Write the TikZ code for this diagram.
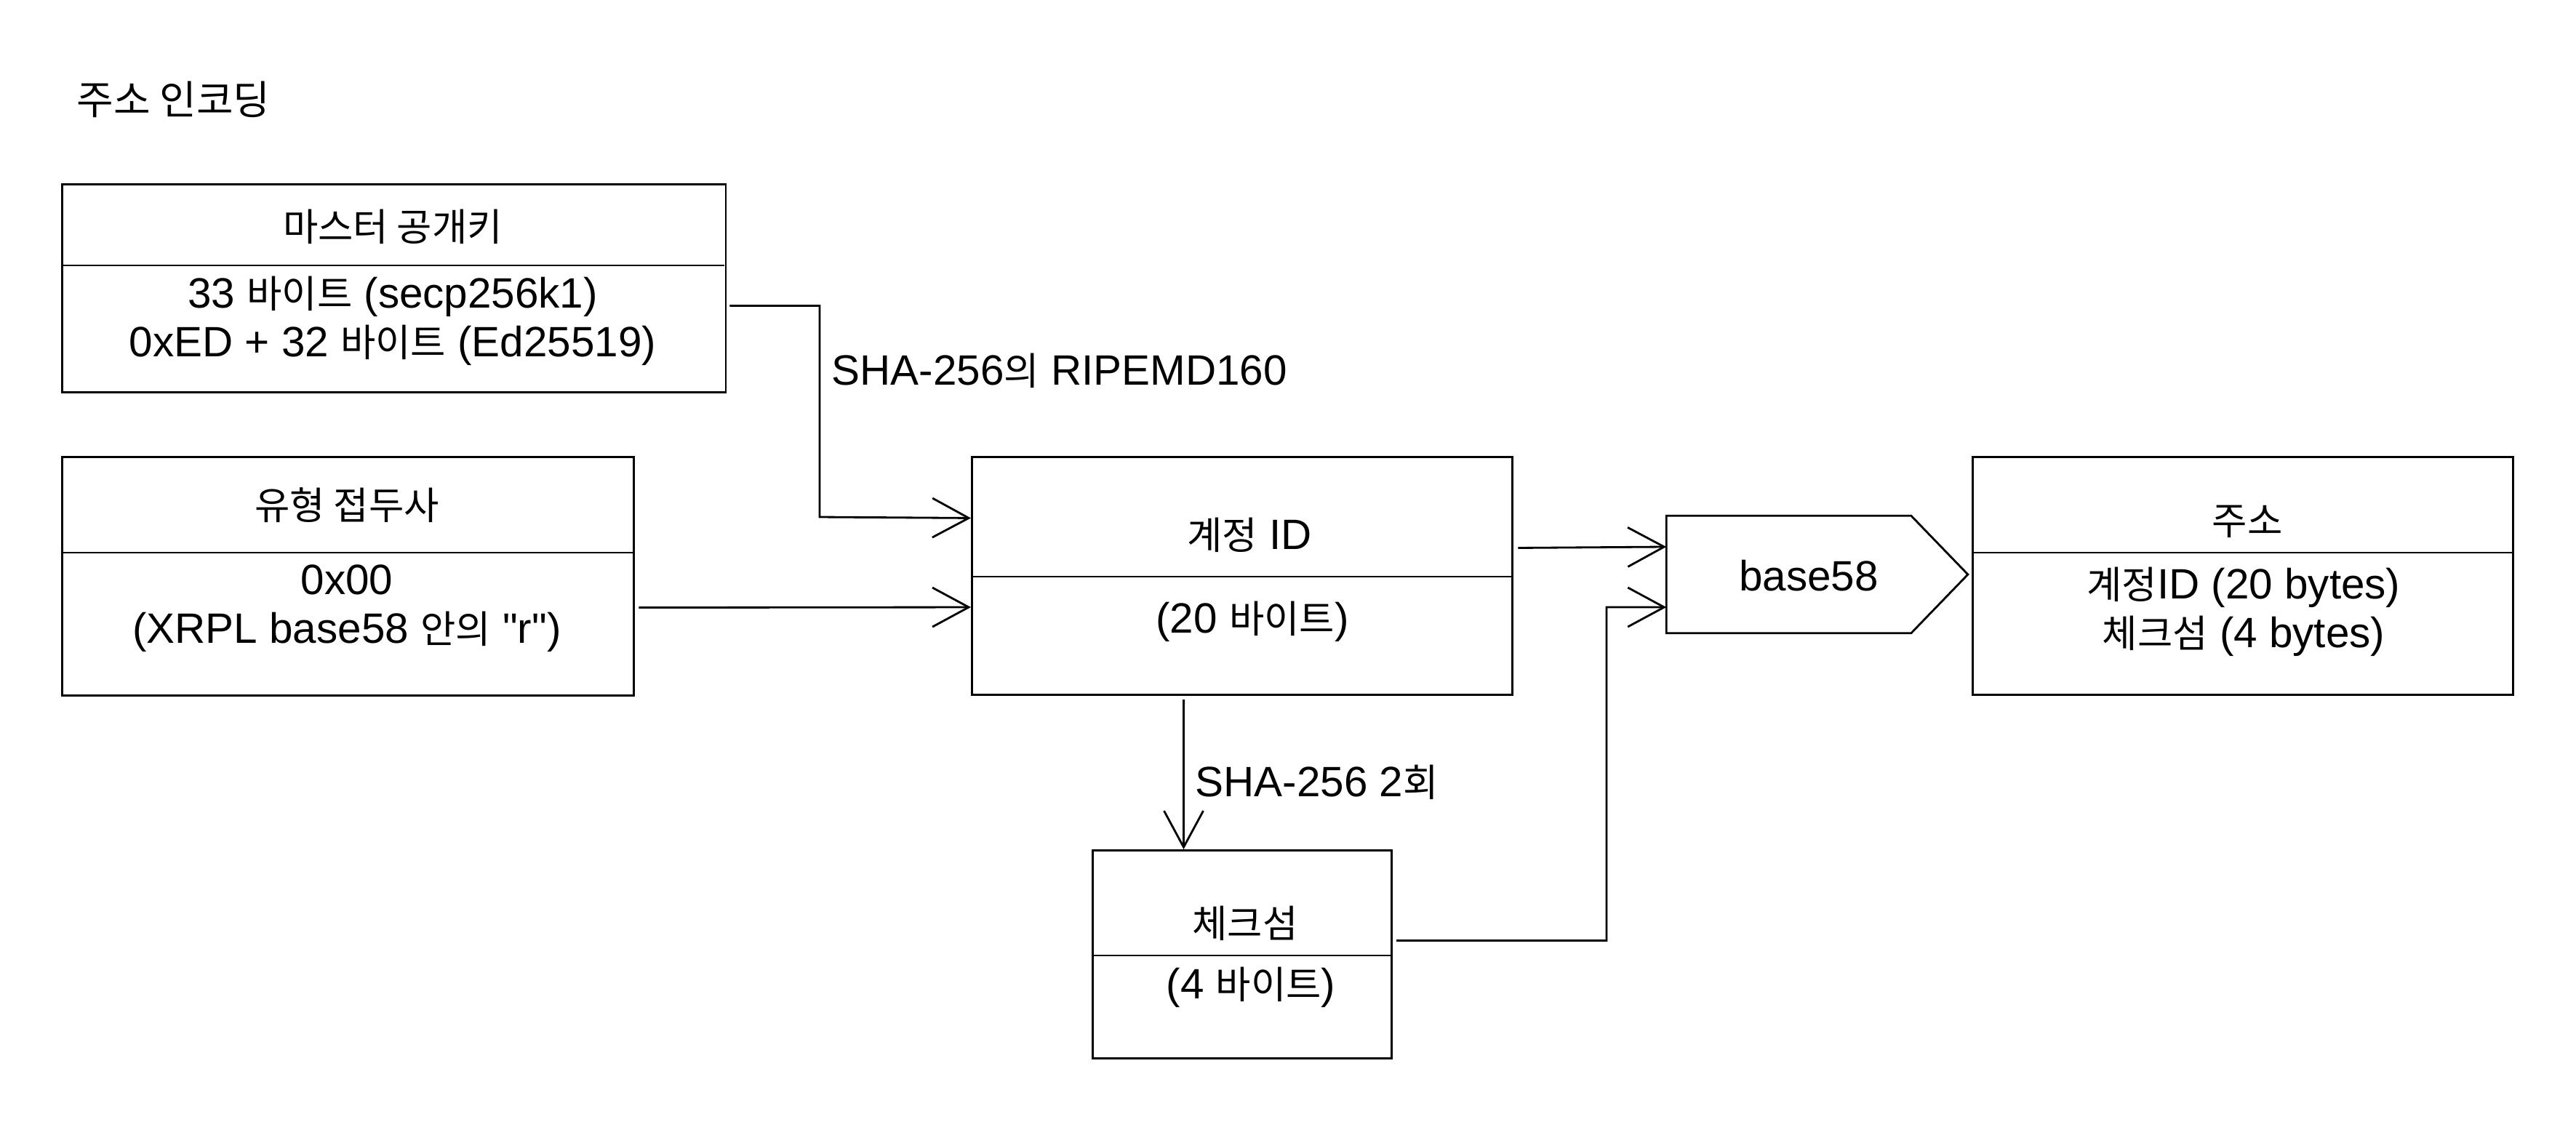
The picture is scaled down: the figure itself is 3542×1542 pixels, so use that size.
\documentclass[tikz,border=0pt]{standalone}
\usepackage{fontspec}
\setmainfont{Liberation Sans}[Ligatures=TeXOff]
\newfontfamily\kr[Scale=0.9]{Noto Sans CJK KR}
\usetikzlibrary{arrows.meta}

\begin{document}
\begin{tikzpicture}[x=0.01cm,y=0.01cm]
\tikzstyle{every node}+=[inner sep=0pt, align=center, font=\fontsize{16.6}{19}\selectfont]
\tikzstyle{box}=[draw=black, line width=0.8pt, anchor=north west]
\tikzstyle{flow}=[black, line width=0.8pt, -{Straight Barb[length=5mm,width=5.4mm]}]
\useasboundingbox (0,0) rectangle (3542,-1542);
\node [anchor=west, font=\fontsize{17.4}{20}\selectfont] (title) at (105,-137) {{\kr 주소 인코딩}};
% boxes
\node [box, minimum width=9.12cm, minimum height=2.86cm] (master) at (84,-252) {};
\draw [black, line width=0.8pt] (84,-365) -- (996,-365);
\node (masterhead) at (540,-312) {{\kr 마스터 공개키}};
\node (masterbody) at (540,-441) {33 {\kr 바이트} (secp256k1)\\0xED + 32 {\kr 바이트} (Ed25519)};
\node [box, minimum width=7.86cm, minimum height=3.28cm] (prefix) at (84,-627) {};
\draw [black, line width=0.8pt] (84,-760) -- (870,-760);
\node (prefixhead) at (477,-695) {{\kr 유형 접두사}};
\node (prefixbody) at (477,-837) {0x00\\(XRPL base58 {\kr 안의} "r")};
\node [box, minimum width=7.43cm, minimum height=3.27cm] (acct) at (1335,-627) {};
\draw [black, line width=0.8pt] (1335,-793) -- (2078,-793);
\node (accthead) at (1718,-736) {{\kr 계정} ID};
\node (acctbody) at (1722,-855) {(20 {\kr 바이트})};
\node [box, minimum width=4.11cm, minimum height=2.86cm] (chk) at (1501,-1168) {};
\draw [black, line width=0.8pt] (1501,-1314) -- (1912,-1314);
\node (chkhead) at (1712,-1270) {{\kr 체크섬}};
\node (chkbody) at (1720,-1358) {(4 {\kr 바이트})};
\node [minimum width=4.13cm, minimum height=1.6cm] (b58) at (2498.5,-790) {};
\draw [black, line width=0.8pt] (b58.north west) -- ([xshift=-0.78cm]b58.north east) -- (b58.east)
  -- ([xshift=-0.78cm]b58.south east) -- (b58.south west) -- cycle;
\node (b58text) at (2487,-792) {base58};
\node [box, minimum width=7.43cm, minimum height=3.27cm] (addr) at (2711,-627) {};
\draw [black, line width=0.8pt] (2711,-760) -- (3454,-760);
\node (addrhead) at (3090,-717) {{\kr 주소}};
\node (addrbody) at (3085,-841) {{\kr 계정}ID (20 bytes)\\{\kr 체크섬} (4 bytes)};
% connectors
\draw [flow] ([xshift=0.04cm,yshift=-0.24cm]master.east) -| (1127,-711) -- ([yshift=0.795cm]acct.west);
\node [anchor=west] (ripemd) at (1143,-510) {SHA-256{\kr 의} RIPEMD160};
\draw [flow] ([xshift=0.05cm,yshift=-0.43cm]prefix.east) -- ([yshift=-0.43cm]acct.west);
\draw [flow] ([xshift=0.06cm,yshift=0.385cm]acct.east) -- ([yshift=0.38cm]b58.west);
\draw [flow] ([xshift=-0.805cm,yshift=-0.05cm]acct.south) -- ([xshift=-0.805cm]chk.north);
\node [anchor=west] (dsha) at (1643,-1076) {SHA-256 2{\kr 회}};
\draw [flow] ([xshift=0.05cm,yshift=0.19cm]chk.east) -| (2209,-835) -- ([yshift=-0.45cm]b58.west);
\end{tikzpicture}
\end{document}
